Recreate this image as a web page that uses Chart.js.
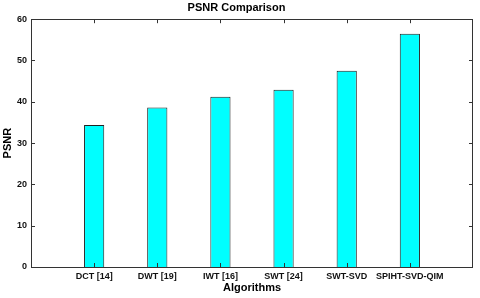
<!DOCTYPE html>
<html>
<head>
<meta charset="utf-8">
<script src="https://cdn.jsdelivr.net/npm/chart.js@4.4.0/dist/chart.umd.min.js"></script>
<style>
html,body{margin:0;padding:0;background:#fff;}
#wrap{width:480px;height:298px;position:relative;}
</style>
</head>
<body>
<div id="wrap"><canvas id="c" width="480" height="298"></canvas></div>
<script>
// Data (padding slots '' at both ends mimic the MATLAB x-range 0..7)
const categories = ['', 'DCT [14]', 'DWT [19]', 'IWT [16]', 'SWT [24]', 'SWT-SVD', 'SPIHT-SVD-QIM', ''];
const psnrValues = [null, 34.4, 38.6, 41.2, 42.9, 47.5, 56.5, null];
const yTicks = [0, 10, 20, 30, 40, 50, 60];

const FONT = '"Liberation Sans", Arial, sans-serif';
const AXIS = '#333';

const boxTicks = {
  id: 'boxTicks',
  afterDraw(chart) {
    const {ctx, chartArea: a, scales: {x, y}} = chart;
    ctx.save();
    ctx.strokeStyle = AXIS;
    ctx.lineWidth = 1;
    ctx.strokeRect(Math.round(a.left) + 0.5, Math.round(a.top) + 0.5,
                   Math.round(a.right - a.left) - 1, Math.round(a.bottom - a.top));
    const L = 4;
    ctx.beginPath();
    yTicks.forEach(v => {
      const py = Math.round(y.getPixelForValue(v)) + 0.5;
      ctx.moveTo(a.left, py); ctx.lineTo(a.left + L, py);
      ctx.moveTo(a.right, py); ctx.lineTo(a.right - L, py);
    });
    categories.forEach((c, i) => {
      if (!c) return;
      const px = Math.round(x.getPixelForValue(i)) + 0.5;
      ctx.moveTo(px, a.top); ctx.lineTo(px, a.top + L);
      ctx.moveTo(px, a.bottom); ctx.lineTo(px, a.bottom - L);
    });
    ctx.stroke();
    ctx.restore();
  }
};

new Chart(document.getElementById('c'), {
  type: 'bar',
  data: {
    labels: categories,
    datasets: [{
      data: psnrValues,
      backgroundColor: '#00FFFF',
      borderColor: '#222',
      borderWidth: 1,
      categoryPercentage: 1,
      barPercentage: 0.32
    }]
  },
  options: {
    responsive: false,
    animation: false,
    devicePixelRatio: 1,
    layout: {padding: {left: 0, right: 7, top: 0, bottom: 0}},
    plugins: {
      legend: {display: false},
      tooltip: {enabled: false},
      title: {
        display: true,
        text: 'PSNR Comparison',
        color: '#000',
        font: {family: FONT, size: 11, weight: 'bold'},
        padding: {top: 1, bottom: 5}
      }
    },
    scales: {
      x: {
        offset: false,
        grid: {display: false, drawTicks: false},
        border: {display: false},
        ticks: {
          color: '#111',
          font: {family: FONT, size: 9, weight: 'bold'},
          padding: 4,
          maxRotation: 0,
          autoSkip: false
        },
        title: {
          display: true,
          text: 'Algorithms',
          color: '#000',
          font: {family: FONT, size: 11, weight: 'bold'},
          padding: {top: 0, bottom: 3}
        },
        afterFit(s) { s.height = 31; }
      },
      y: {
        min: 0,
        max: 60,
        grid: {display: false, drawTicks: false},
        border: {display: false},
        afterBuildTicks(s) { s.ticks = yTicks.map(v => ({value: v})); },
        ticks: {
          color: '#111',
          font: {family: FONT, size: 9, weight: 'bold'},
          padding: 4
        },
        title: {
          display: true,
          text: 'PSNR',
          color: '#000',
          font: {family: FONT, size: 11, weight: 'bold'},
          padding: {top: 1, bottom: 0}
        },
        afterFit(s) { s.width = 31; }
      }
    }
  },
  plugins: [boxTicks]
});
</script>
</body>
</html>
